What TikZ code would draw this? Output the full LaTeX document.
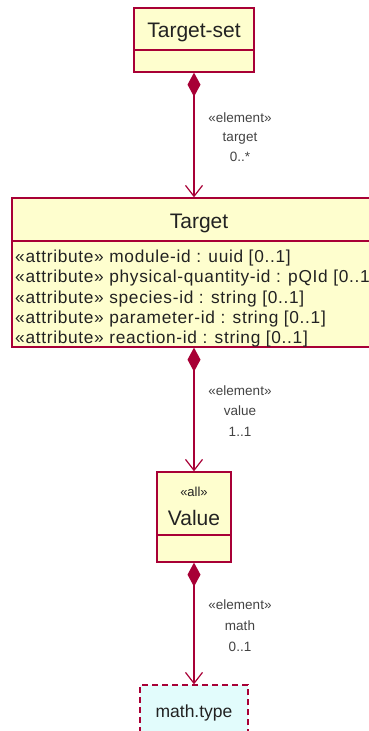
\documentclass[tikz,border=0pt]{standalone}
\usepackage{fontspec}
\setmainfont{Liberation Sans}
\newfontfamily\attrfont[LetterSpace=4]{Liberation Sans}
\usetikzlibrary{arrows.meta}
\definecolor{umlline}{HTML}{A80036}
\definecolor{umlfill}{HTML}{FEFECE}
\definecolor{umlcyan}{HTML}{E2FCFC}
\definecolor{txt}{HTML}{222222}
\begin{document}
\begin{tikzpicture}[x=1pt,y=-1pt,
  classbox/.style={draw=umlline, fill=umlfill, line width=1.3pt, inner sep=0, rectangle},
  divline/.style={draw=umlline, line width=1.3pt},
  title/.style={font=\fontsize{21}{24}\selectfont, text=txt, inner sep=0, anchor=base},
  stereo/.style={font=\fontsize{13}{15}\selectfont, text=txt, inner sep=0, anchor=base},
  attr/.style={font=\attrfont\fontsize{17.3}{20}\selectfont, text=txt, inner sep=0, anchor=base west},
  lbl/.style={font=\fontsize{13.5}{15}\selectfont, text=txt!85, inner sep=0, anchor=base},
  comp/.style={draw=umlline, line width=1.2pt,
    {Diamond[length=24pt,width=13pt,fill=umlline]}-{Straight Barb[length=11pt,width=17pt]}}
]
\useasboundingbox (0,0) rectangle (369,731);
\clip (0,0) rectangle (369,731);

% Target-set
\node[classbox, minimum width=120pt, minimum height=64pt] (tset) at (194,40) {};
\draw[divline] (134,50) -- (254,50);
\node[title] (tsettitle) at (194,37) {Target-set};

% Target
\node[classbox, minimum width=374pt, minimum height=149pt] (target) at (199,272.5) {};
\draw[divline] (12,241) -- (386,241);
\node[title] (targettitle) at (199,228) {Target};
\node[attr] (a1) at (15,262) {«attribute» module-id : uuid [0..1]};
\node[attr] (a2) at (15,282.5) {«attribute» physical-quantity-id : pQId [0..1]};
\node[attr] (a3) at (15,303) {«attribute» species-id : string [0..1]};
\node[attr] (a4) at (15,323) {«attribute» parameter-id : string [0..1]};
\node[attr] (a5) at (15,343.5) {«attribute» reaction-id : string [0..1]};

% Value
\node[classbox, minimum width=74pt, minimum height=90pt] (value) at (194,517) {};
\draw[divline] (157,535) -- (231,535);
\node[stereo] (valstereo) at (194,496) {«all»};
\node[title] (valtitle) at (194,525) {Value};

% math.type
\node[draw=umlline, fill=umlcyan, line width=1.3pt, dash pattern=on 6pt off 4pt,
      minimum width=108pt, minimum height=52pt, inner sep=0] (math) at (194,711) {};
\node[font=\fontsize{17.5}{20}\selectfont, text=txt, inner sep=0, anchor=base] (mathtxt) at (194,717) {math.type};

% connectors
\draw[comp] (tset.south) -- (target.north -| tset.south);
\draw[comp] (target.south -| tset.south) -- (value.north);
\draw[comp] (value.south) -- (math.north);

% labels
\node[lbl] (c1a) at (240,122) {«element»};
\node[lbl] (c1b) at (240,141.5) {target};
\node[lbl] (c1c) at (240,161) {0..*};
\node[lbl] (c2a) at (240,395) {«element»};
\node[lbl] (c2b) at (240,415.5) {value};
\node[lbl] (c2c) at (240,436) {1..1};
\node[lbl] (c3a) at (240,609) {«element»};
\node[lbl] (c3b) at (240,630) {math};
\node[lbl] (c3c) at (240,651) {0..1};
\end{tikzpicture}
\end{document}
